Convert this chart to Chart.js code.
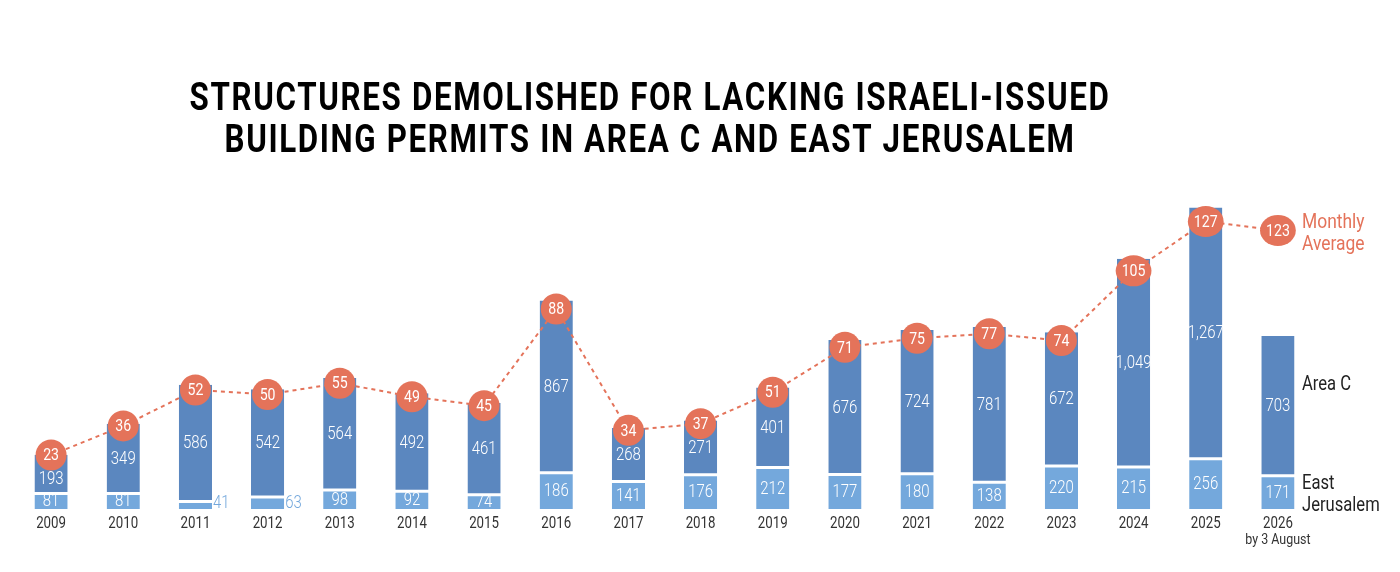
<!DOCTYPE html>
<html>
<head>
<meta charset="utf-8">
<script src="https://cdn.jsdelivr.net/npm/chart.js@4"></script>
<style>
  body { margin: 0; background: #fff; }
  #wrap { width: 1400px; height: 572px; position: relative; }
</style>
</head>
<body>
<div id="wrap"><canvas id="demolitionChart"></canvas></div>
<script>
const years = ["2009", "2010", "2011", "2012", "2013", "2014", "2015", "2016", "2017",
  "2018", "2019", "2020", "2021", "2022", "2023", "2024", "2025", "2026"];
const areaC = [193, 349, 586, 542, 564, 492, 461, 867, 268, 271, 401, 676, 724, 781, 672, 1049, 1267, 703];
const eastJerusalem = [81, 81, 41, 63, 98, 92, 74, 186, 141, 176, 212, 177, 180, 138, 220, 215, 256, 171];
const monthlyAverage = [23, 36, 52, 50, 55, 49, 45, 88, 34, 37, 51, 71, 75, 77, 74, 105, 127, 123];
const titleLines = ["STRUCTURES DEMOLISHED FOR LACKING ISRAELI-ISSUED",
  "BUILDING PERMITS IN AREA C AND EAST JERUSALEM"];
const lastYearNote = "by 3 August";

const blueDark = "#5b87bf";
const blueLight = "#74a8dc";
const salmon = "#e4735a";
const squeeze = 0.83; // fake a condensed face

const fmt = v => v.toLocaleString("en-US");

// text drawn narrower than Roboto normally is
function narrowText(ctx, txt, x, y, align) {
  ctx.save();
  ctx.translate(x, y);
  ctx.scale(squeeze, 1);
  ctx.textAlign = align || "center";
  ctx.fillText(txt, 0, 0);
  ctx.restore();
}

const decorations = {
  id: "decorations",
  afterDatasetsDraw(chart) {
    const ctx = chart.ctx;
    const xs = chart.scales.x;
    ctx.save();

    // title
    ctx.fillStyle = "#000";
    ctx.font = "bold 38px Roboto";
    ctx.textAlign = "center";
    ctx.textBaseline = "alphabetic";
    ctx.letterSpacing = "2px";
    const widths = [921, 851];
    titleLines.forEach((line, i) => {
      const w = ctx.measureText(line).width;
      ctx.save();
      ctx.translate(650, 110 + i * 42);
      ctx.scale(widths[i] / w, 1);
      ctx.fillText(line, 0, 0);
      ctx.restore();
    });
    ctx.letterSpacing = "0px";

    const metaEJ = chart.getDatasetMeta(0);
    const metaC = chart.getDatasetMeta(1);
    const metaAvg = chart.getDatasetMeta(2);

    // bar value labels
    ctx.font = "300 18px Roboto";
    ctx.textBaseline = "middle";
    metaEJ.data.forEach((bar, i) => {
      const h = bar.base - bar.y;
      if (h < 14) {
        ctx.fillStyle = blueLight;
        narrowText(ctx, fmt(eastJerusalem[i]), bar.x + bar.width / 2 + 1, 503, "left");
      } else {
        ctx.fillStyle = "#fff";
        narrowText(ctx, fmt(eastJerusalem[i]), bar.x, (bar.y + bar.base) / 2 + 1);
      }
    });
    metaC.data.forEach((bar, i) => {
      ctx.fillStyle = "#fff";
      const mid = (bar.y + bar.base) / 2 + 1;
      const below = metaAvg.data[i].y + 24;
      narrowText(ctx, fmt(areaC[i]), bar.x, Math.max(mid, below));
    });

    // monthly average bubbles
    ctx.font = "17px Roboto";
    metaAvg.data.forEach((pt, i) => {
      const txt = String(monthlyAverage[i]);
      const tw = ctx.measureText(txt).width * squeeze;
      const rx = Math.max(15.5, tw / 2 + 6);
      ctx.fillStyle = salmon;
      ctx.beginPath();
      ctx.ellipse(pt.x, pt.y, rx, 15.5, 0, 0, Math.PI * 2);
      ctx.fill();
      ctx.fillStyle = "#fff";
      narrowText(ctx, txt, pt.x, pt.y + 1);
    });

    // year labels
    ctx.fillStyle = "#333";
    ctx.font = "16px Roboto";
    years.forEach((y, i) => {
      narrowText(ctx, y, xs.getPixelForValue(i), 524);
    });
    ctx.font = "15px Roboto";
    narrowText(ctx, lastYearNote, xs.getPixelForValue(years.length - 1), 540);

    // series labels on the right
    ctx.font = "21px Roboto";
    ctx.fillStyle = salmon;
    narrowText(ctx, "Monthly", 1302, 223, "left");
    narrowText(ctx, "Average", 1302, 245, "left");
    ctx.fillStyle = "#222";
    ctx.font = "20px Roboto";
    narrowText(ctx, "Area C", 1302, 385, "left");
    narrowText(ctx, "East", 1302, 484, "left");
    narrowText(ctx, "Jerusalem", 1302, 506, "left");
    ctx.restore();
  }
};

new Chart(document.getElementById("demolitionChart"), {
  type: "bar",
  data: {
    labels: years,
    datasets: [
      {
        label: "East Jerusalem",
        data: eastJerusalem,
        backgroundColor: blueLight,
        borderColor: "#fff",
        borderWidth: { top: 2, left: 0, right: 0, bottom: 0 },
        borderSkipped: false,
        stack: "s",
        yAxisID: "y",
        barPercentage: 0.46,
        categoryPercentage: 1,
        order: 2
      },
      {
        label: "Area C",
        data: areaC,
        backgroundColor: blueDark,
        borderColor: "#fff",
        borderWidth: { top: 0, left: 0, right: 0, bottom: 1 },
        borderSkipped: false,
        stack: "s",
        yAxisID: "y",
        barPercentage: 0.46,
        categoryPercentage: 1,
        order: 2
      },
      {
        type: "line",
        label: "Monthly Average",
        data: monthlyAverage,
        borderColor: salmon,
        borderWidth: 2,
        borderDash: [4, 4],
        pointRadius: 0,
        tension: 0,
        yAxisID: "y2",
        order: 1
      }
    ]
  },
  options: {
    responsive: true,
    maintainAspectRatio: false,
    animation: false,
    layout: { padding: { left: 15, right: 86, top: 190, bottom: 63 } },
    plugins: {
      legend: { display: false },
      tooltip: { enabled: false }
    },
    scales: {
      x: { display: false, stacked: true, offset: true },
      y: { display: false, stacked: true, min: 0, max: 1611 },
      y2: { display: false, min: -1, max: 141 }
    }
  },
  plugins: [decorations]
});
</script>
</body>
</html>
